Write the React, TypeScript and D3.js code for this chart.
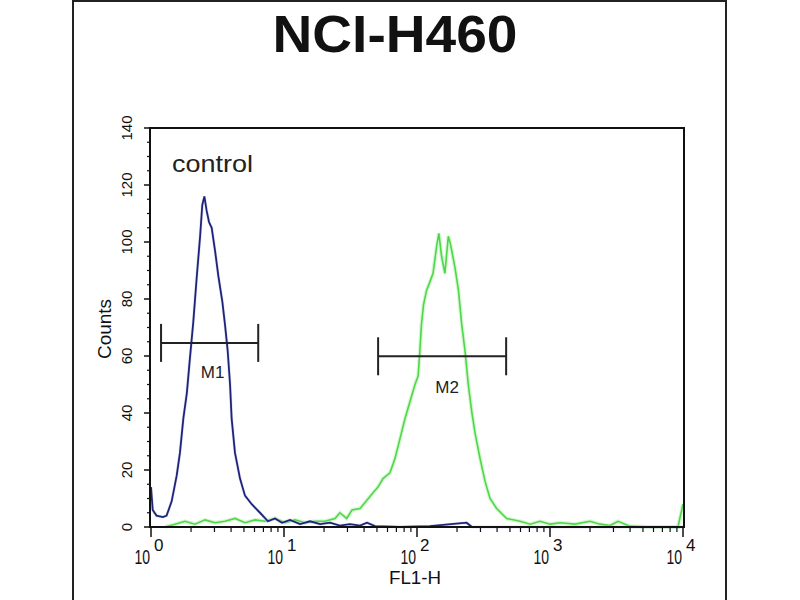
import React from "react";
import * as d3 from "d3";

// control histogram (FL1-H value, counts)
const controlFL = [1.0, 1.03, 1.1, 1.23, 1.31, 1.43, 1.56, 1.65, 1.75, 1.86, 1.96, 2.08, 2.21, 2.34, 2.43, 2.52, 2.62, 2.73, 2.86, 3.03, 3.21, 3.44, 3.6, 3.77, 3.93, 4.04, 4.28, 4.67, 5.09, 5.72, 6.6, 7.58, 8.56, 9.66, 11.1, 13.2, 15.7, 18.7, 22.2, 26.3, 31.3, 37.3, 42.1, 48.3, 74.6, 125, 236, 259, 1000, 10000];
const controlCounts = [14, 6, 4, 3.5, 4, 9, 18, 26, 38, 47, 59, 72, 88, 102, 113, 116, 111, 107, 105, 97, 88, 79, 71, 62, 50, 38, 26, 17, 11, 8, 5, 2, 3, 1.5, 2.5, 1, 2, 1, 1.5, 0.5, 1, 0.5, 1.5, 0.3, 0, 0.3, 1.5, 0, 0, 0];

// stained sample histogram
const sampleFL = [1.27, 1.52, 1.8, 2.14, 2.55, 3.03, 3.6, 4.28, 5.09, 6.06, 7.2, 8.56, 10.2, 12.1, 14.4, 17.1, 20.3, 24.2, 26.3, 29.6, 32.5, 37.3, 41.4, 46.7, 50.9, 55.5, 62.6, 68.3, 74.5, 81.2, 88.6, 96.6, 102, 105, 108, 112, 118, 125, 132, 141, 146, 153, 162, 172, 179, 193, 205, 217, 230, 243, 258, 273, 298, 325, 354, 397, 472, 595, 708, 841, 1000, 1189, 1542, 1995, 2377, 2822, 3245, 3982, 5649, 9165, 10000];
const sampleCounts = [0, 1, 2, 1, 2.5, 1.5, 2, 3, 1.5, 2.5, 2, 3, 1.5, 2.5, 1.5, 2, 2, 3, 5, 3, 6, 6.5, 9, 12, 14, 17, 19, 24, 31, 38, 44, 50, 53, 61.5, 71, 78, 83, 86, 89, 99, 103, 95, 89, 102, 99, 91, 83, 71, 61.5, 50, 40.5, 33, 24, 16, 10, 6.5, 3, 2, 1, 2, 1, 1.5, 1, 2, 1, 0.5, 2, 0.3, 0, 0, 8];

// gate markers
const markerNames = ["M1", "M2"];
const markerRanges = [[1.19, 6.4], [51, 468]];
const markerLevels = [64.6, 59.9];

const yTicks = [0, 20, 40, 60, 80, 100, 120, 140];
const xDecades = [0, 1, 2, 3, 4];

export default function App() {
  const x = d3.scaleLog().domain([1, 10000]).range([151, 683]);
  const y = d3.scaleLinear().domain([0, 140]).range([527, 128]);

  const makePath = (fl: number[], counts: number[]) =>
    d3
      .line<number>()
      .x((d) => x(d))
      .y((_, i) => y(counts[i]))(fl) || "";

  const controlPath = makePath(controlFL, controlCounts);
  const samplePath = makePath(sampleFL, sampleCounts);

  const yMinor = d3.range(0, 141, 5).filter((v) => v % 20 !== 0);
  const xMinor: number[] = [];
  for (let d = 0; d < 4; d++) {
    for (let k = 2; k <= 9; k++) xMinor.push(k * Math.pow(10, d));
  }

  const [x0, x1] = x.range();
  const [yb, yt] = y.range();

  return (
    <svg
      width={800}
      height={600}
      style={{ position: "absolute", left: 0, top: 0, background: "#fff" }}
      fontFamily="'Liberation Sans', Arial, sans-serif"
    >
      {/* outer frame */}
      <line x1={73} y1={0} x2={73} y2={600} stroke="#222" strokeWidth={2} />
      <line x1={726} y1={0} x2={726} y2={600} stroke="#222" strokeWidth={2} />
      <line x1={73} y1={1} x2={726} y2={1} stroke="#222" strokeWidth={2} />

      <text
        x={395}
        y={52}
        textAnchor="middle"
        fontSize={52}
        fontWeight="bold"
        textLength={245}
        lengthAdjust="spacingAndGlyphs"
        fill="#111"
      >
        NCI-H460
      </text>

      {/* histograms */}
      <path d={samplePath} fill="none" stroke="#c8f5c0" strokeWidth={4} opacity={0.7} />
      <path d={samplePath} fill="none" stroke="#4fd64a" strokeWidth={1.6} />
      <path d={controlPath} fill="none" stroke="#c9cce8" strokeWidth={3} opacity={0.6} />
      <path d={controlPath} fill="none" stroke="#1d2378" strokeWidth={1.8} />

      {/* plot frame */}
      <rect
        x={x0 - 1}
        y={yt}
        width={x1 - x0 + 2}
        height={yb - yt}
        fill="none"
        stroke="#111"
        strokeWidth={2}
      />

      {/* y axis */}
      {yTicks.map((t) => (
        <g key={"y" + t}>
          <line x1={x0 - 7} x2={x0 - 1} y1={y(t)} y2={y(t)} stroke="#111" strokeWidth={1.5} />
          <text
            transform={`translate(132,${y(t)}) rotate(-90)`}
            textAnchor="middle"
            fontSize={15}
            fill="#111"
          >
            {t}
          </text>
        </g>
      ))}
      {yMinor.map((t) => (
        <line key={"ym" + t} x1={x0 - 4} x2={x0 - 1} y1={y(t)} y2={y(t)} stroke="#111" strokeWidth={1.2} />
      ))}
      <text transform={`translate(111,329) rotate(-90)`} textAnchor="middle" fontSize={19} fill="#111">
        Counts
      </text>

      {/* x axis */}
      {xDecades.map((d) => {
        const px = x(Math.pow(10, d));
        return (
          <g key={"x" + d}>
            <line x1={px} x2={px} y1={yb} y2={yb + 10} stroke="#111" strokeWidth={1.5} />
            <text
              transform={`translate(${px - 1},564) scale(0.7,1)`}
              textAnchor="end"
              fontSize={20}
              fill="#111"
            >
              10
            </text>
            <text x={px + 3} y={551} fontSize={17} fill="#111">
              {d}
            </text>
          </g>
        );
      })}
      {xMinor.map((v) => (
        <line key={"xm" + v} x1={x(v)} x2={x(v)} y1={yb} y2={yb + 5} stroke="#111" strokeWidth={1.2} />
      ))}
      <text x={415} y={584} textAnchor="middle" fontSize={18} textLength={52} lengthAdjust="spacingAndGlyphs" fill="#111">
        FL1-H
      </text>

      <text x={172} y={172} fontSize={24} textLength={81} lengthAdjust="spacingAndGlyphs" fill="#222">
        control
      </text>

      {/* markers */}
      {markerNames.map((name, i) => {
        const [a, b] = markerRanges[i];
        const ly = y(markerLevels[i]);
        return (
          <g key={name} stroke="#222" strokeWidth={2}>
            <line x1={x(a)} x2={x(b)} y1={ly} y2={ly} />
            <line x1={x(a)} x2={x(a)} y1={ly - 19} y2={ly + 19} />
            <line x1={x(b)} x2={x(b)} y1={ly - 19} y2={ly + 19} />
            <text
              x={(x(a) + x(b)) / 2 + (i === 0 ? 3 : 5)}
              y={ly + (i === 0 ? 35 : 37)}
              textAnchor="middle"
              fontSize={17}
              stroke="none"
              fill="#222"
            >
              {name}
            </text>
          </g>
        );
      })}
    </svg>
  );
}
